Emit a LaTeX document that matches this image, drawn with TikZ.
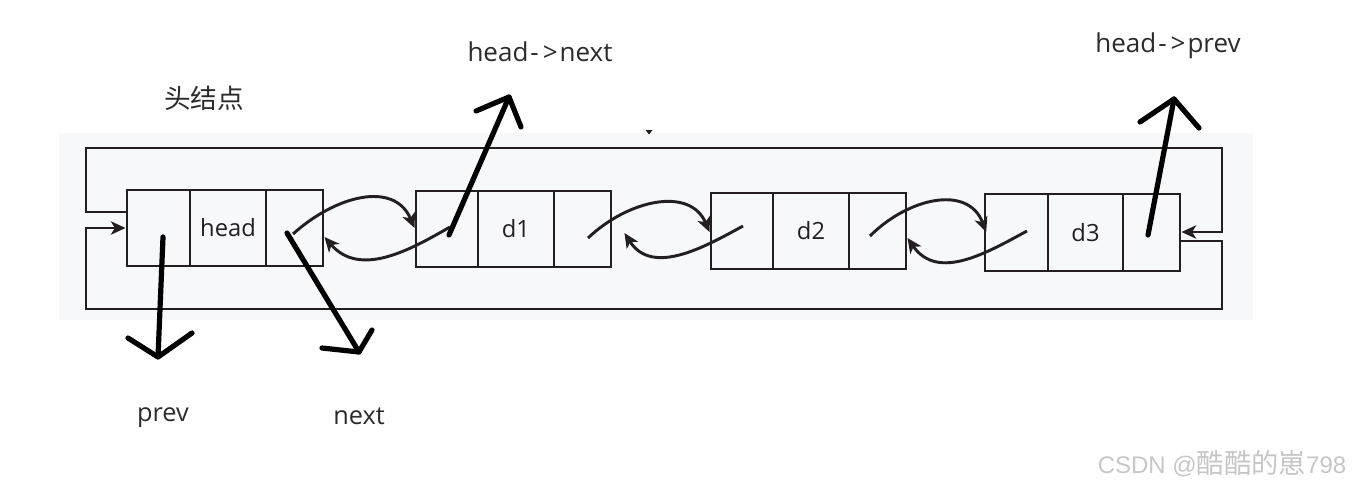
\documentclass[tikz,border=0pt]{standalone}
\usepackage{fontspec}
\setmainfont{Open Sans}
\newfontfamily\cjkfont{Noto Sans CJK SC}
\newfontfamily\wmfont{Liberation Sans}
\usetikzlibrary{arrows.meta}
\definecolor{ln}{HTML}{231F20}
\definecolor{bgc}{HTML}{F7F8FA}
\definecolor{txt}{HTML}{2B2B2B}
\definecolor{wm}{HTML}{C6C6C6}
\tikzset{
  cell/.style={draw=ln, line width=2.2pt, inner sep=0pt, minimum height=57pt},
  link/.style={draw=ln, line width=2.2pt, -{Stealth[length=11pt,width=10pt,inset=3pt]}},
  hand/.style={draw=black, line width=3.9pt, line cap=round, line join=round},
  lbl/.style={font=\fontsize{19}{22}\selectfont, text=txt, inner sep=0pt},
  boxtxt/.style={font=\fontsize{17.8}{21}\selectfont, text=ln, inner sep=0pt},
}
\begin{document}
\begin{tikzpicture}[x=0.75pt,y=-0.75pt]
\useasboundingbox (0,0) rectangle (1353,487);
\fill[bgc] (59,133) rectangle (1253,320);
\fill[ln] (645.5,130) -- (652.5,130) -- (649,134.5) -- cycle;

% head node
\node[cell, minimum width=47.25pt] (h1) at (158.5,228) {};
\node[cell, minimum width=57pt] (h2) at (228,228) {};
\node[cell, minimum width=42.75pt] (h3) at (294.5,228) {};
% d1
\node[cell, minimum width=46.5pt] (a1) at (447,229) {};
\node[cell, minimum width=57pt] (a2) at (516,229) {};
\node[cell, minimum width=42.75pt] (a3) at (582.5,229) {};
% d2
\node[cell, minimum width=46.5pt] (b1) at (742,231) {};
\node[cell, minimum width=57pt] (b2) at (811,231) {};
\node[cell, minimum width=42.75pt] (b3) at (877.5,231) {};
% d3
\node[cell, minimum width=47.25pt, minimum height=57.75pt] (c1) at (1016.5,232.5) {};
\node[cell, minimum width=56.25pt, minimum height=57.75pt] (c2) at (1085.5,232.5) {};
\node[cell, minimum width=42.75pt, minimum height=57.75pt] (c3) at (1151.5,232.5) {};

\node[boxtxt] at (h2) {head};
\node[boxtxt] at (a2) {d1};
\node[boxtxt] at (b2) {d2};
\node[boxtxt] at (c2) {d3};

% loops
\draw[link] (h1.west |- 0,212) -- (86,212) -- (86,148) -- (1222,148) -- (1222,232) -- (c3.east |- 0,232);
\draw[link] (c3.east |- 0,241) -- (1222,241) -- (1222,309) -- (86,309) -- (86,228) -- (h1.west);

% links between nodes
\coordinate (hs) at (293,234);
\coordinate (as) at (450,227);
\coordinate (af) at (588,238);
\coordinate (bs) at (743,226);
\coordinate (bf) at (870,236);
\coordinate (cs) at (1027,231);
\draw[link] (hs) .. controls (335,196) and (394,180) .. (a1.west |- 0,228);
\draw[link] (as) .. controls (410,250) and (360,278) .. (h3.east |- 0,237);
\draw[link] (af) .. controls (628,200) and (690,186) .. (b1.west |- 0,232);
\draw[link] (bs) .. controls (703,248) and (652,276) .. ([xshift=9pt]a3.east |- 0,233);
\draw[link] (bf) .. controls (908,198) and (968,184) .. ([xshift=2pt]c1.west |- 0,232);
\draw[link] (cs) .. controls (988,252) and (938,282) .. (b3.east |- 0,238);

% hand-drawn arrows
\coordinate (p0) at (163,237);  \coordinate (p1) at (158,357);
\coordinate (pl) at (128,338);  \coordinate (pr) at (192,333);
\draw[hand] (p0) -- (p1);
\draw[hand] (pl) -- (p1) -- (pr);

\coordinate (n0) at (287,233);  \coordinate (n1) at (359,352);
\coordinate (nl) at (322,348);  \coordinate (nr) at (372,330);
\draw[hand] (n0) -- (n1);
\draw[hand] (nl) -- (n1) -- (nr);

\coordinate (x0) at (449,235);  \coordinate (x1) at (509,97);
\coordinate (xl) at (476,111);  \coordinate (xr) at (521,127);
\draw[hand] (x0) -- (x1);
\draw[hand] (xl) -- (x1) -- (xr);

\coordinate (y0) at (1148,235); \coordinate (y1) at (1174,99);
\coordinate (yl) at (1140,122); \coordinate (yr) at (1199,128);
\draw[hand] (y0) -- (y1);
\draw[hand] (yl) -- (y1) -- (yr);

% labels
\node[lbl, font=\cjkfont\fontsize{20}{22}\selectfont] (tj) at (204,98) {头结点};
\node[lbl, font=\fontsize{19.5}{22}\selectfont] (hn) at (540,52) {head\kern1.5pt-\kern3pt>\kern1.5pt next};
\node[lbl, font=\fontsize{19.5}{22}\selectfont] (hp) at (1168,46) {head\kern1.5pt-\kern3pt>\kern1.5pt prev};
\node[lbl] (pv) at (163,418) {prev};
\node[lbl] (nx) at (359,416) {next};
\node[text=wm, inner sep=0pt, font=\wmfont\fontsize{18}{20}\selectfont] (wmk) at (1222,464) {CSDN @{\cjkfont\fontsize{20.5}{20}\selectfont 酷酷的崽}798};
\end{tikzpicture}
\end{document}
